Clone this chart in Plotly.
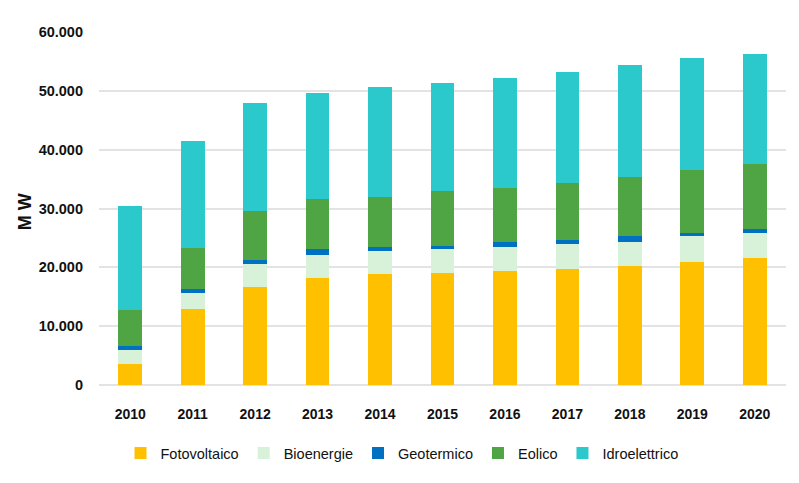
import plotly.graph_objects as go

years = ["2010", "2011", "2012", "2013", "2014", "2015", "2016", "2017", "2018", "2019", "2020"]
fotovoltaico = [3500, 13000, 16700, 18200, 18850, 19100, 19400, 19750, 20300, 20950, 21650]
bioenergie = [2450, 2700, 3950, 3950, 3900, 4050, 4000, 4300, 4000, 4300, 4250]
geotermico = [700, 700, 570, 950, 630, 560, 950, 620, 950, 620, 620]
eolico = [6100, 6950, 8400, 8500, 8600, 9250, 9150, 9750, 10150, 10750, 11050]
idroelettrico = [17700, 18150, 18300, 18100, 18700, 18350, 18700, 18700, 18950, 18900, 18700]

series = [
    ("Fotovoltaico", fotovoltaico, "#FFC000"),
    ("Bioenergie", bioenergie, "#D8F1D9"),
    ("Geotermico", geotermico, "#0070C0"),
    ("Eolico", eolico, "#4FA543"),
    ("Idroelettrico", idroelettrico, "#2BC9CC"),
]

FONT = "Liberation Sans, Arial, sans-serif"
W, H = 799, 483
OFF = 8  # page body margin

fig = go.Figure()
for name, vals, col in series:
    fig.add_trace(go.Bar(x=years, y=vals, name=name,
                         marker=dict(color=col, line=dict(width=0))))

fig.update_layout(
    barmode="stack",
    bargap=0.62,
    width=W, height=H,
    margin=dict(l=99 - OFF, r=W - (786 - OFF), t=32 - OFF, b=H - (385 - OFF)),
    paper_bgcolor="white",
    plot_bgcolor="white",
    separators=",.",
    font=dict(family=FONT, color="#111111"),
    showlegend=True,
    legend=dict(orientation="h", xref="container", yref="container",
                x=(402 - OFF) / W, xanchor="center", y=1 - (453 - OFF) / H, yanchor="middle",
                font=dict(family=FONT, size=14.5, color="#111111"),
                itemwidth=30, traceorder="normal"),
    xaxis=dict(type="category", showgrid=False, zeroline=False, showline=False,
               ticks="", tickfont=dict(family=FONT, size=14, color="#111111", weight="bold"),
               ticklabelstandoff=19),
    yaxis=dict(range=[0, 60000], tickvals=[0, 10000, 20000, 30000, 40000, 50000, 60000],
               tickformat=",.0f", showgrid=True, gridcolor="#E3E3E3", gridwidth=1.5,
               zeroline=True, zerolinecolor="#E3E3E3", zerolinewidth=1.5,
               showline=False, ticks="",
               tickfont=dict(family=FONT, size=14.5, color="#111111", weight="bold"),
               ticklabelstandoff=15),
    annotations=[dict(text="M W", textangle=-90, xref="paper", yref="paper",
                      x=(25 - 99) / 687, y=(385 - 212) / 353.3, xanchor="center", yanchor="middle",
                      showarrow=False,
                      font=dict(family=FONT, size=18, color="#111111", weight="bold"))],
)

fig.write_html("out.html")
